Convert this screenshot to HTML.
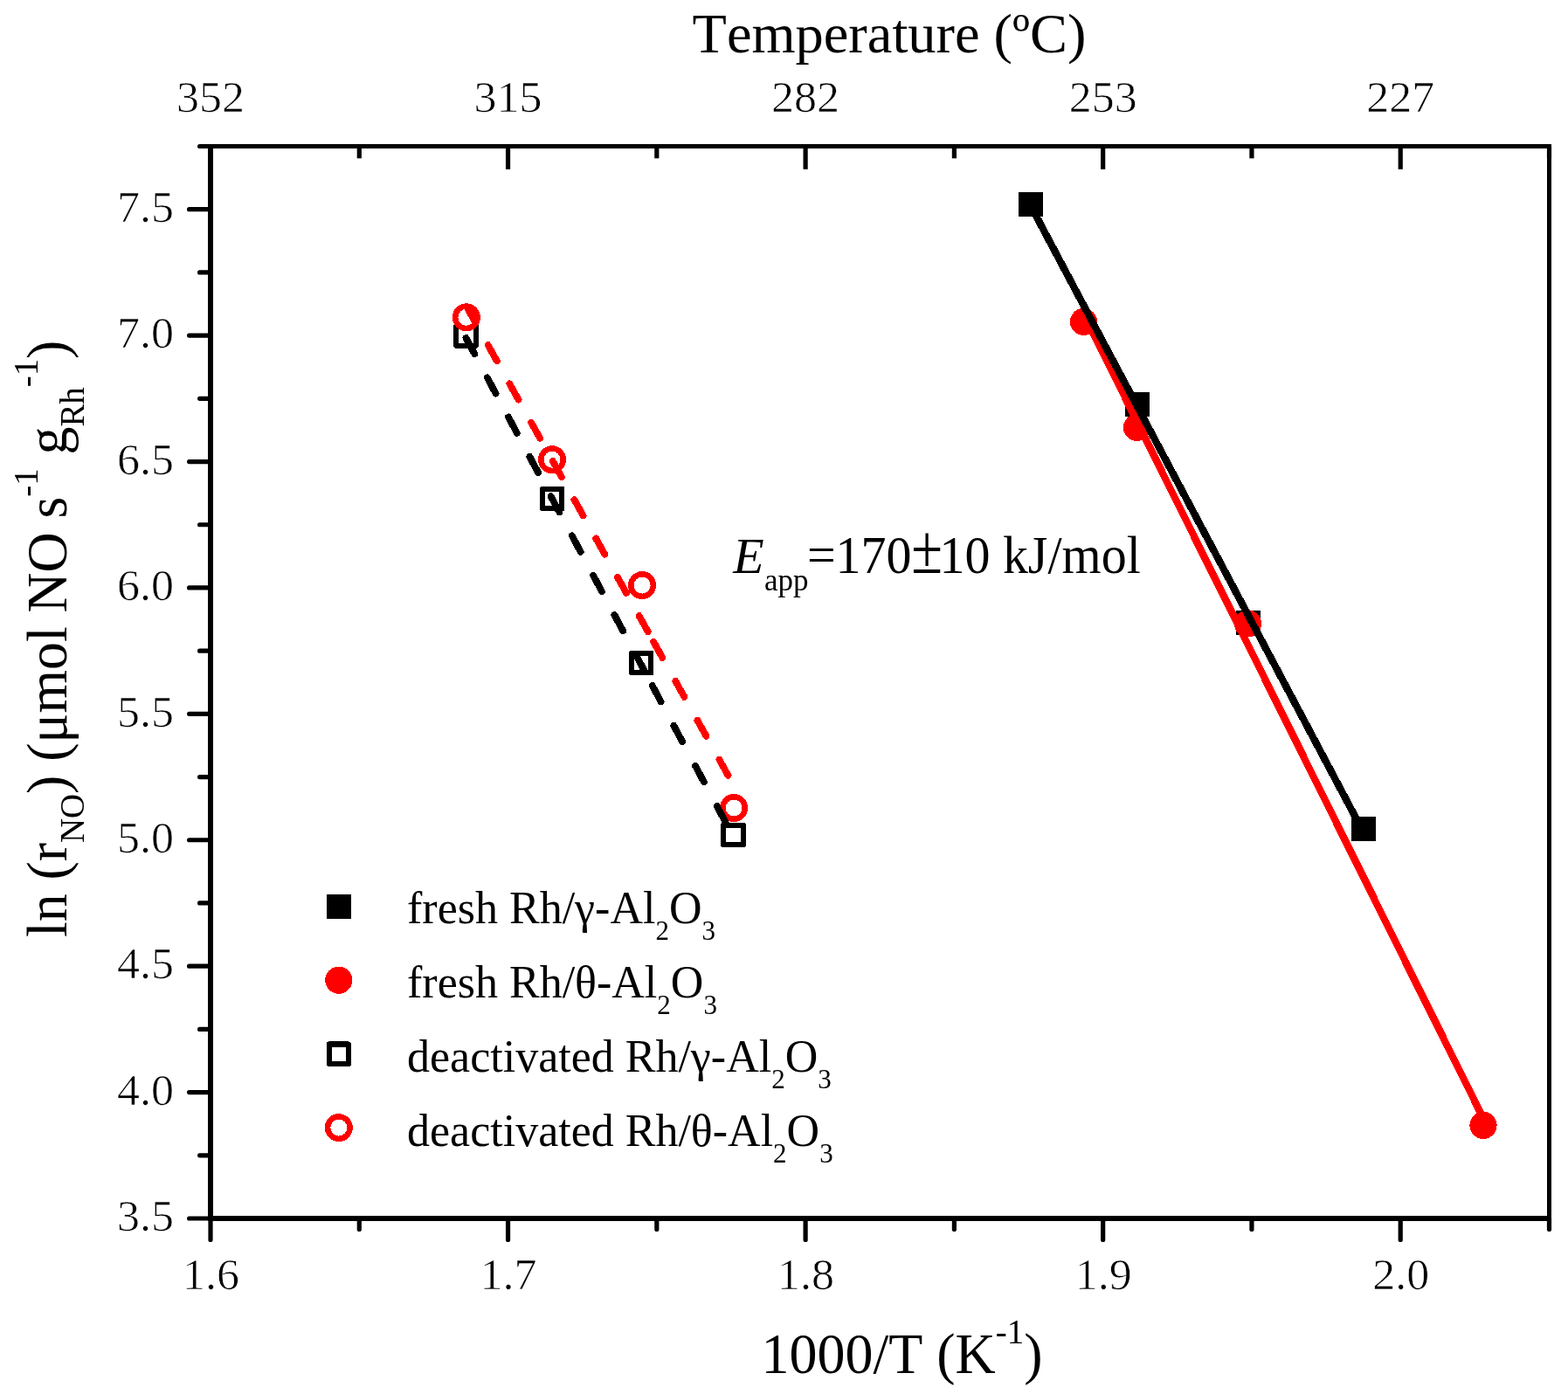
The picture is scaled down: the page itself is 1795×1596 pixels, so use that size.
<!DOCTYPE html>
<html lang="en"><head><meta charset="utf-8"><title>Arrhenius plot</title>
<style>
html,body{margin:0;padding:0;background:#fff;}
body{width:1795px;height:1596px;overflow:hidden;}
svg{display:block;}
text{font-family:"Liberation Serif","DejaVu Serif",serif;fill:#000;font-kerning:none;font-variant-ligatures:none;}
.tk{font-size:52px;stroke:#fff;stroke-width:0.7px;}
.ti{font-size:64px;}
.lg{font-size:52px;}
.an{font-size:58px;}
</style></head><body>
<svg width="1795" height="1596" viewBox="0 0 1795 1596" role="img" aria-label="Arrhenius plot of NO reduction rate over Rh/Al2O3 catalysts">
<rect x="0" y="0" width="1795" height="1596" fill="#fff"/>
<g fill="#000" shape-rendering="crispEdges">
<rect x="238" y="165" width="6" height="1233"/>
<rect x="1771" y="165" width="5" height="1233"/>
<rect x="238" y="165" width="1538" height="5"/>
<rect x="238" y="1392" width="1538" height="6"/>
</g>
<g stroke="#000" stroke-width="5.20" fill="none" stroke-linecap="round">
<line x1="216.60" y1="1395.00" x2="240.00" y2="1395.00"/>
<line x1="228.60" y1="1322.79" x2="240.00" y2="1322.79"/>
<line x1="216.60" y1="1250.59" x2="240.00" y2="1250.59"/>
<line x1="228.60" y1="1178.38" x2="240.00" y2="1178.38"/>
<line x1="216.60" y1="1106.18" x2="240.00" y2="1106.18"/>
<line x1="228.60" y1="1033.97" x2="240.00" y2="1033.97"/>
<line x1="216.60" y1="961.76" x2="240.00" y2="961.76"/>
<line x1="228.60" y1="889.56" x2="240.00" y2="889.56"/>
<line x1="216.60" y1="817.35" x2="240.00" y2="817.35"/>
<line x1="228.60" y1="745.15" x2="240.00" y2="745.15"/>
<line x1="216.60" y1="672.94" x2="240.00" y2="672.94"/>
<line x1="228.60" y1="600.74" x2="240.00" y2="600.74"/>
<line x1="216.60" y1="528.53" x2="240.00" y2="528.53"/>
<line x1="228.60" y1="456.32" x2="240.00" y2="456.32"/>
<line x1="216.60" y1="384.12" x2="240.00" y2="384.12"/>
<line x1="228.60" y1="311.91" x2="240.00" y2="311.91"/>
<line x1="216.60" y1="239.71" x2="240.00" y2="239.71"/>
<line x1="228.60" y1="167.50" x2="240.00" y2="167.50"/>
<line x1="241.00" y1="1395.00" x2="241.00" y2="1419.40"/>
<line x1="241.00" y1="168.00" x2="241.00" y2="193.80" stroke-linecap="butt"/>
<line x1="411.28" y1="1395.00" x2="411.28" y2="1407.40"/>
<line x1="411.28" y1="168.00" x2="411.28" y2="181.30" stroke-linecap="butt"/>
<line x1="581.56" y1="1395.00" x2="581.56" y2="1419.40"/>
<line x1="581.56" y1="168.00" x2="581.56" y2="193.80" stroke-linecap="butt"/>
<line x1="751.83" y1="1395.00" x2="751.83" y2="1407.40"/>
<line x1="751.83" y1="168.00" x2="751.83" y2="181.30" stroke-linecap="butt"/>
<line x1="922.11" y1="1395.00" x2="922.11" y2="1419.40"/>
<line x1="922.11" y1="168.00" x2="922.11" y2="193.80" stroke-linecap="butt"/>
<line x1="1092.39" y1="1395.00" x2="1092.39" y2="1407.40"/>
<line x1="1092.39" y1="168.00" x2="1092.39" y2="181.30" stroke-linecap="butt"/>
<line x1="1262.67" y1="1395.00" x2="1262.67" y2="1419.40"/>
<line x1="1262.67" y1="168.00" x2="1262.67" y2="193.80" stroke-linecap="butt"/>
<line x1="1432.94" y1="1395.00" x2="1432.94" y2="1407.40"/>
<line x1="1432.94" y1="168.00" x2="1432.94" y2="181.30" stroke-linecap="butt"/>
<line x1="1603.22" y1="1395.00" x2="1603.22" y2="1419.40"/>
<line x1="1603.22" y1="168.00" x2="1603.22" y2="193.80" stroke-linecap="butt"/>
<line x1="1773.50" y1="1395.00" x2="1773.50" y2="1407.40"/>
<line x1="1773.50" y1="168.00" x2="1773.50" y2="181.30" stroke-linecap="butt"/>
</g>
<g class="tk">
<text transform="translate(199,254.01) scale(1,0.965)" text-anchor="end">7.5</text>
<text transform="translate(199,398.42) scale(1,0.965)" text-anchor="end">7.0</text>
<text transform="translate(199,542.83) scale(1,0.965)" text-anchor="end">6.5</text>
<text transform="translate(199,687.24) scale(1,0.965)" text-anchor="end">6.0</text>
<text transform="translate(199,831.65) scale(1,0.965)" text-anchor="end">5.5</text>
<text transform="translate(199,976.06) scale(1,0.965)" text-anchor="end">5.0</text>
<text transform="translate(199,1120.48) scale(1,0.965)" text-anchor="end">4.5</text>
<text transform="translate(199,1264.89) scale(1,0.965)" text-anchor="end">4.0</text>
<text transform="translate(199,1409.30) scale(1,0.965)" text-anchor="end">3.5</text>
<text transform="translate(241.50,1476) scale(1,0.965)" text-anchor="middle">1.6</text>
<text transform="translate(582.06,1476) scale(1,0.965)" text-anchor="middle">1.7</text>
<text transform="translate(922.61,1476) scale(1,0.965)" text-anchor="middle">1.8</text>
<text transform="translate(1263.17,1476) scale(1,0.965)" text-anchor="middle">1.9</text>
<text transform="translate(1603.72,1476) scale(1,0.965)" text-anchor="middle">2.0</text>
<text transform="translate(241.00,127.9) scale(1,0.965)" text-anchor="middle">352</text>
<text transform="translate(581.56,127.9) scale(1,0.965)" text-anchor="middle">315</text>
<text transform="translate(922.11,127.9) scale(1,0.965)" text-anchor="middle">282</text>
<text transform="translate(1262.67,127.9) scale(1,0.965)" text-anchor="middle">253</text>
<text transform="translate(1603.22,127.9) scale(1,0.965)" text-anchor="middle">227</text>
</g>
<text class="ti" x="1018" y="60" text-anchor="middle" style="font-size:64.4px">Temperature (ºC)</text>
<text class="ti" transform="translate(871.5,1571.5) scale(1,1.035)">1000/T (K<tspan font-size="39px" dy="-32">-1</tspan><tspan dy="32">)</tspan></text>
<text class="ti" transform="translate(75.6,1073) rotate(-90) scale(0.9956,1.02)">ln (r<tspan font-size="39px" dy="20">NO</tspan><tspan dy="-20">) (μmol NO s</tspan><tspan font-size="39px" dy="-32">-1</tspan><tspan dy="32"> g</tspan><tspan font-size="39px" dy="20">Rh</tspan><tspan font-size="39px" dy="-52">-1</tspan><tspan dy="32">)</tspan></text>
<g shape-rendering="crispEdges">
<rect x="1166.0" y="220.4" width="28.0" height="28.0" fill="#000"/>
<rect x="1288.0" y="448.8" width="28.0" height="28.0" fill="#000"/>
<rect x="1415.0" y="699.0" width="28.0" height="28.0" fill="#000"/>
<rect x="1547.1" y="934.5" width="28.0" height="28.0" fill="#000"/>
<circle cx="1240.5" cy="368.4" r="15.60" fill="#f00"/>
<circle cx="1301.5" cy="489.4" r="15.60" fill="#f00"/>
<circle cx="1428.5" cy="713.9" r="15.60" fill="#f00"/>
<circle cx="1698.0" cy="1288.4" r="15.60" fill="#f00"/>
<rect x="522.3" y="373.4" width="22.4" height="22.4" fill="#fff" stroke="#000" stroke-width="6.1" stroke-linejoin="round"/>
<rect x="620.9" y="559.8" width="22.4" height="22.4" fill="#fff" stroke="#000" stroke-width="6.1" stroke-linejoin="round"/>
<rect x="723.0" y="747.8" width="22.4" height="22.4" fill="#fff" stroke="#000" stroke-width="6.1" stroke-linejoin="round"/>
<rect x="828.3" y="944.8" width="22.4" height="22.4" fill="#fff" stroke="#000" stroke-width="6.1" stroke-linejoin="round"/>
<circle cx="533.9" cy="363.3" r="12.75" fill="#fff" stroke="#f00" stroke-width="6.5"/>
<circle cx="632.0" cy="526.2" r="12.75" fill="#fff" stroke="#f00" stroke-width="6.5"/>
<circle cx="735.1" cy="670.1" r="12.75" fill="#fff" stroke="#f00" stroke-width="6.5"/>
<circle cx="840.1" cy="925.0" r="12.75" fill="#fff" stroke="#f00" stroke-width="6.5"/>
</g>
<g fill="none" shape-rendering="crispEdges">
<line x1="1240.50" y1="359.60" x2="1698.00" y2="1280.30" stroke="#f00" stroke-width="8.30" stroke-linecap="round"/>
<line x1="1180.00" y1="235.70" x2="1561.10" y2="953.30" stroke="#000" stroke-width="8.30" stroke-linecap="round"/>
<line x1="533.96" y1="350.80" x2="747.47" y2="733.50" stroke="#f00" stroke-width="7.80" stroke-linecap="round" stroke-dasharray="20.8 29.9"/>
<line x1="748.25" y1="734.90" x2="840.14" y2="899.60" stroke="#f00" stroke-width="7.80" stroke-linecap="round" stroke-dasharray="20.8 30.6"/>
<line x1="533.46" y1="386.90" x2="745.71" y2="783.00" stroke="#000" stroke-width="7.80" stroke-linecap="round" stroke-dasharray="20.8 30.6"/>
<line x1="746.73" y1="784.90" x2="839.43" y2="957.90" stroke="#000" stroke-width="7.80" stroke-linecap="round" stroke-dasharray="20.8 31.4"/>
</g>
<g shape-rendering="crispEdges">
<rect x="373.8" y="1023.7" width="28.0" height="28.0" fill="#000"/>
<circle cx="387.8" cy="1122.2" r="15.60" fill="#f00"/>
<rect x="376.6" y="1195.5" width="22.4" height="22.4" fill="#fff" stroke="#000" stroke-width="6.1" stroke-linejoin="round"/>
<circle cx="387.8" cy="1291.1" r="12.75" fill="#fff" stroke="#f00" stroke-width="6.5"/>
</g>
<text class="lg" x="466" y="1057.0">fresh Rh/γ-Al<tspan font-size="31px" dy="19">2</tspan><tspan dy="-19">O</tspan><tspan font-size="31px" dy="19">3</tspan></text>
<text class="lg" x="466" y="1142.0">fresh Rh/θ-Al<tspan font-size="31px" dy="19">2</tspan><tspan dy="-19">O</tspan><tspan font-size="31px" dy="19">3</tspan></text>
<text class="lg" x="466" y="1226.6">deactivated Rh/γ-Al<tspan font-size="31px" dy="19">2</tspan><tspan dy="-19">O</tspan><tspan font-size="31px" dy="19">3</tspan></text>
<text class="lg" x="466" y="1311.8">deactivated Rh/θ-Al<tspan font-size="31px" dy="19">2</tspan><tspan dy="-19">O</tspan><tspan font-size="31px" dy="19">3</tspan></text>
<g class="an">
<text x="839.3" y="656" font-style="italic">E</text>
<text x="875" y="676" font-size="35px">app</text>
<text transform="translate(923.9,656) scale(1,1.04)">=170</text>
<text transform="translate(1043.2,655.6) scale(1.124,1.374)">±</text>
<text transform="translate(1075.4,656) scale(1,1.04)">10 kJ/mol</text>
</g>
</svg>
</body></html>
